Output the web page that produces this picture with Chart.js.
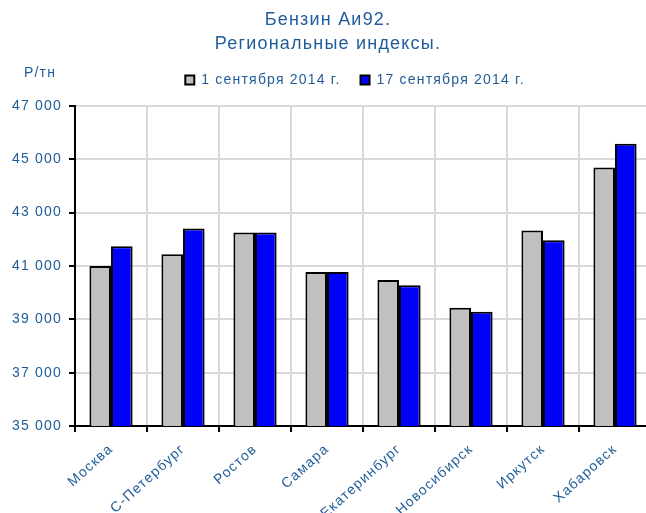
<!DOCTYPE html>
<html>
<head>
<meta charset="utf-8">
<script src="https://cdn.jsdelivr.net/npm/chart.js@4/dist/chart.umd.min.js"></script>
<style>
  html, body { margin: 0; background: #fff; overflow: hidden; }
  #wrap { width: 651px; height: 513px; }
</style>
</head>
<body>
<div id="wrap"><canvas id="c"></canvas></div>
<script>
const cities = ['Москва', 'С-Петербург', 'Ростов', 'Самара', 'Екатеринбург', 'Новосибирск', 'Иркутск', 'Хабаровск'];
const sep1 = [41000, 41440, 42250, 40770, 40470, 39430, 42330, 44690];
const sep17 = [41740, 42400, 42250, 40770, 40280, 39280, 41960, 45580];
const yTicks = [35000, 37000, 39000, 41000, 43000, 45000, 47000];

const textBlue = '#1f5c99';
const fontName = "'Liberation Sans', Arial, sans-serif";

// разрядка текста как в исходной картинке
const spacing = {
  id: 'spacing',
  beforeLayout(chart) {
    chart.ctx.letterSpacing = '1.2px';
    // подгонка высоты легенды
    const lg = chart.legend;
    if (lg && !lg._patched) {
      const fit = lg.fit;
      lg.fit = function() { fit.call(this); this.height += 3; };
      lg._patched = true;
    }
  },
  afterLayout(chart) {
    // легенда чуть левее и выше
    chart.legend.left -= 8;
    chart.legend.right -= 8;
    chart.legend.top -= 6;
  },
  beforeDraw(chart) { chart.ctx.letterSpacing = '1.2px'; }
};

// подпись единиц над осью Y
const unitLabel = {
  id: 'unitLabel',
  afterDraw(chart) {
    const ctx = chart.ctx;
    ctx.save();
    ctx.fillStyle = textBlue;
    ctx.font = '14px ' + fontName;
    ctx.textAlign = 'center';
    ctx.textBaseline = 'middle';
    ctx.fillText('Р/тн', chart.chartArea.left - 35, chart.chartArea.top - 33);
    ctx.restore();
  }
};

new Chart(document.getElementById('c'), {
  type: 'bar',
  data: {
    labels: cities,
    datasets: [
      { label: '1 сентября 2014 г.', data: sep1, backgroundColor: '#c0c0c0', borderColor: '#000', borderWidth: 2 },
      { label: '17 сентября 2014 г.', data: sep17, backgroundColor: '#0000ff', borderColor: '#000', borderWidth: 2 }
    ]
  },
  options: {
    responsive: true,
    maintainAspectRatio: false,
    animation: false,
    datasets: { bar: { categoryPercentage: 0.6, barPercentage: 1.0 } },
    layout: { padding: { left: 5, right: 0, top: 4, bottom: 0 } },
    plugins: {
      title: {
        display: true,
        text: ['Бензин Аи92.', 'Региональные индексы.'],
        color: textBlue,
        font: { family: fontName, size: 18, weight: 'normal', lineHeight: 1.33 },
        padding: { top: 4, bottom: 3 }
      },
      legend: {
        display: true,
        position: 'top',
        fullSize: false,
        labels: {
          color: textBlue,
          font: { family: fontName, size: 14 },
          boxWidth: 9,
          boxHeight: 9,
          padding: 20
        }
      },
      tooltip: { enabled: false }
    },
    scales: {
      x: {
        afterFit(scale) { scale.height = 87; },
        grid: { color: '#d9d9d9', lineWidth: 2, tickColor: '#000', tickLength: 6, offset: true },
        border: { color: '#000', width: 2 },
        ticks: {
          color: textBlue,
          font: { family: fontName, size: 14 },
          minRotation: 42,
          maxRotation: 42,
          padding: 9
        }
      },
      y: {
        min: 35000,
        max: 47000,
        afterBuildTicks(axis) { axis.ticks = yTicks.map(v => ({ value: v })); },
        grid: { color: '#d9d9d9', lineWidth: 2, tickColor: '#000', tickLength: 6 },
        border: { color: '#000', width: 2 },
        ticks: {
          color: textBlue,
          font: { family: fontName, size: 14 },
          padding: 7,
          callback: v => String(v).replace(/(\d)(?=(\d{3})+$)/g, '$1 ')
        }
      }
    }
  },
  plugins: [spacing, unitLabel]
});
</script>
</body>
</html>
